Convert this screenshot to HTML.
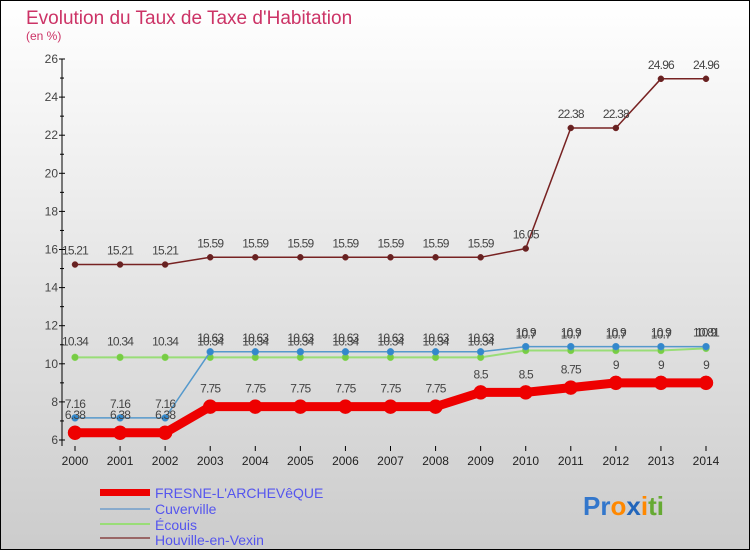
<!DOCTYPE html>
<html><head><meta charset="utf-8"><style>
body{margin:0;}
svg{display:block;font-family:"Liberation Sans",sans-serif;}
</style></head><body>
<svg id="c" width="750" height="550" xmlns="http://www.w3.org/2000/svg">
<defs><linearGradient id="bg" x1="0" y1="0" x2="0" y2="1"><stop offset="0" stop-color="#ffffff"/><stop offset="1" stop-color="#cccccc"/></linearGradient></defs>
<rect x="0.5" y="0.5" width="749" height="549" fill="url(#bg)" stroke="#000"/>
<text x="26" y="24" font-size="19" fill="#cc3366">Evolution du Taux de Taxe d'Habitation</text>
<text x="26" y="40" font-size="12" fill="#cc3366">(en %)</text>
<g id="axes"></g>
<g id="series"></g>
<g id="labels"></g>
<g>
<rect x="100" y="489" width="50" height="7" fill="#ee0000"/>
<text x="155" y="498" font-size="14" fill="#5555ee">FRESNE-L'ARCHEVêQUE</text>
<rect x="100" y="508" width="50" height="2" fill="#88aacc"/>
<text x="155" y="514" font-size="14" fill="#5555ee">Cuverville</text>
<rect x="100" y="523" width="50" height="2" fill="#99dd77"/>
<text x="155" y="530" font-size="14" fill="#5555ee">Écouis</text>
<rect x="100" y="537" width="50" height="2" fill="#996666"/>
<text x="155" y="545" font-size="14" fill="#5555ee">Houville-en-Vexin</text>
</g>
<g font-size="26" font-weight="bold">
<text x="583" y="515"><tspan fill="#3377cc">Pr</tspan><tspan fill="#ff8800">o</tspan><tspan fill="#2266bb">x</tspan><tspan fill="#ff8800">i</tspan><tspan fill="#66aa33">ti</tspan></text>
</g>
</svg>
<script>
const years=[2000,2001,2002,2003,2004,2005,2006,2007,2008,2009,2010,2011,2012,2013,2014];
const yTicks=[6,8,10,12,14,16,18,20,22,24,26];
const fresne=[6.38,6.38,6.38,7.75,7.75,7.75,7.75,7.75,7.75,8.5,8.5,8.75,9,9,9];
const cuverville=[7.16,7.16,7.16,10.63,10.63,10.63,10.63,10.63,10.63,10.63,10.9,10.9,10.9,10.9,10.9];
const ecouis=[10.34,10.34,10.34,10.34,10.34,10.34,10.34,10.34,10.34,10.34,10.7,10.7,10.7,10.7,10.81];
const houville=[15.21,15.21,15.21,15.59,15.59,15.59,15.59,15.59,15.59,15.59,16.05,22.38,22.38,24.96,24.96];
const NS="http://www.w3.org/2000/svg";
const X=i=>75+i*(706-75)/14;
const Y=v=>440-(v-6)*(381/20);
function mk(t,a,p){const e=document.createElementNS(NS,t);for(const k in a)e.setAttribute(k,a[k]);p.appendChild(e);return e;}
const ax=document.getElementById('axes');
const yl=mk('line',{x1:62,y1:59,x2:62,y2:446,stroke:'#000'},ax);


yTicks.forEach(t=>{
  const l=mk('line',{x1:59,y1:Y(t),x2:65,y2:Y(t),stroke:'#000'},ax);
  
  
  const m=mk('line',{x1:60,y1:Y(t+1),x2:64,y2:Y(t+1),stroke:'#000'},ax);
  if(t===26)m.remove();
  const tx=mk('text',{x:58,y:Y(t)+4,'font-size':12,fill:'#444','text-anchor':'end'},ax);
  tx.textContent=t;
  
  
});
years.forEach((y,i)=>{
  const l=mk('line',{x1:X(i),y1:446,x2:X(i),y2:451,stroke:'#000'},ax);
  
  
  const tx=mk('text',{x:X(i),y:465,'font-size':12,fill:'#222','text-anchor':'middle'},ax);
  tx.textContent=y;
  
  
});
const sg=document.getElementById('series'),lg=document.getElementById('labels');
function series(vals,color,w,r,fill,name,dy){
  const pts=vals.map((v,i)=>X(i)+','+Y(v)).join(' ');
  const pl=mk('polyline',{points:pts,fill:'none',stroke:color,'stroke-width':w},sg);
  
  
  vals.forEach((v,i)=>{
    const c=mk('circle',{cx:X(i),cy:Y(v),r:r,fill:fill,stroke:color,'stroke-width':0.5},sg);
    
    
    const t=mk('text',{x:X(i),y:Y(v)+dy,'font-size':12,fill:'#444','text-anchor':'middle','letter-spacing':'-0.8'},lg);
    t.textContent=v;
    
    
  });
}
series(houville,'#772222',1.5,3,'#662222','houville',-10);
series(ecouis,'#99dd77',2,3.5,'#77cc44','ecouis',-12);
series(cuverville,'#5599cc',1.5,3.5,'#3388cc','cuverville',-10);
series(fresne,'#ee0000',9,7,'#ee0000','fresne',-14);
</script>
</body></html>
